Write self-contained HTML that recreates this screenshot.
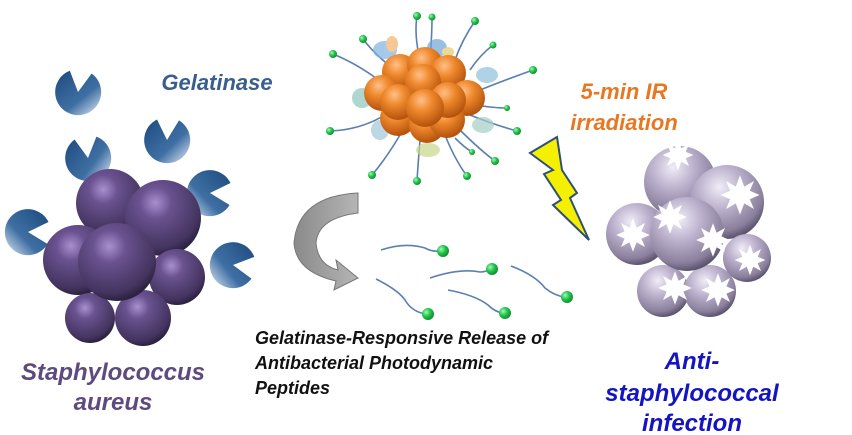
<!DOCTYPE html>
<html><head><meta charset="utf-8"><style>
html,body{margin:0;padding:0;background:#fff;width:852px;height:435px;overflow:hidden}
svg{display:block}
text{font-family:"Liberation Sans",Arial,sans-serif;font-weight:700;font-style:italic}
</style></head><body>
<svg width="852" height="435" viewBox="0 0 852 435" xmlns="http://www.w3.org/2000/svg">
<defs>
<radialGradient id="pur" cx="0.4" cy="0.3" r="0.7"><stop offset="0" stop-color="#a98fce"/><stop offset="0.3" stop-color="#6a5290"/><stop offset="0.85" stop-color="#44345f"/><stop offset="1" stop-color="#2d2242"/></radialGradient>
<radialGradient id="lav" cx="0.4" cy="0.3" r="0.7"><stop offset="0" stop-color="#f0ecf6"/><stop offset="0.4" stop-color="#beb4cf"/><stop offset="0.85" stop-color="#8a7f9c"/><stop offset="1" stop-color="#5e5670"/></radialGradient>
<radialGradient id="org" cx="0.4" cy="0.3" r="0.7"><stop offset="0" stop-color="#ffc089"/><stop offset="0.4" stop-color="#f08a2e"/><stop offset="1" stop-color="#b4520c"/></radialGradient>
<radialGradient id="grn" cx="0.35" cy="0.35" r="0.7"><stop offset="0" stop-color="#a8f5b8"/><stop offset="0.5" stop-color="#1fc64a"/><stop offset="1" stop-color="#0f8a2c"/></radialGradient>
<linearGradient id="pac" x1="0" y1="0" x2="1" y2="1"><stop offset="0" stop-color="#1e4a7e"/><stop offset="0.6" stop-color="#3e6fa3"/><stop offset="1" stop-color="#e6eef7"/></linearGradient>
<linearGradient id="arr" x1="0" y1="0" x2="1" y2="0"><stop offset="0" stop-color="#8a8a8a"/><stop offset="1" stop-color="#b5b5b5"/></linearGradient>
<g id="pm"><path d="M0,0 L-10,-20.5 A23,23 0 1 0 12,-19.6 Z" fill="url(#pac)"/></g>
<polygon id="star" points="0,-14 3,-6 10,-10 7,-3 14,0 7,3 10,10 3,6 0,14 -3,6 -10,10 -7,3 -14,0 -7,-3 -10,-10 -3,-6" fill="#fff"/>
</defs>

<use href="#pm" transform="translate(78,92) rotate(5)"/>
<use href="#pm" transform="translate(88,158) rotate(-10)"/>
<use href="#pm" transform="translate(167,140) rotate(0)"/>
<use href="#pm" transform="translate(210,193) rotate(90)"/>
<use href="#pm" transform="translate(28,232) rotate(90)"/>
<use href="#pm" transform="translate(233,265) rotate(95)"/>

<circle cx="110" cy="203" r="34" fill="url(#pur)"/>
<circle cx="163" cy="218" r="38" fill="url(#pur)"/>
<circle cx="177" cy="277" r="28" fill="url(#pur)"/>
<circle cx="78" cy="260" r="35" fill="url(#pur)"/>
<circle cx="90" cy="318" r="25" fill="url(#pur)"/>
<circle cx="143" cy="318" r="28" fill="url(#pur)"/>
<circle cx="117" cy="262" r="39" fill="url(#pur)"/>

<text x="217" y="90" font-size="22" font-weight="bold" fill="#3a5f8e" text-anchor="middle">Gelatinase</text>
<text x="113" y="380" font-size="24" font-weight="bold" fill="#5d4a7e" text-anchor="middle">Staphylococcus</text>
<text x="113" y="410" font-size="24" font-weight="bold" fill="#5d4a7e" text-anchor="middle">aureus</text>

<g fill="none" stroke="#5a7fb0" stroke-width="1.6">
<path d="M420,60 Q414,35 417,16"/><path d="M430,60 Q432,35 432,17"/><path d="M455,60 Q462,40 475,21"/>
<path d="M395,70 Q375,55 363,39"/><path d="M470,70 Q480,55 493,45"/><path d="M385,85 Q360,65 333,54"/>
<path d="M480,90 Q505,80 533,70"/><path d="M385,115 Q360,130 330,131"/><path d="M470,115 Q495,125 517,131"/>
<path d="M460,130 Q480,150 495,161"/><path d="M400,135 Q385,160 372,175"/><path d="M420,140 Q418,165 417,181"/>
<path d="M445,135 Q455,160 467,176"/><path d="M475,105 Q495,108 507,108"/><path d="M455,138 Q465,148 472,152"/>
</g>
<g fill="url(#grn)">
<circle cx="417" cy="16" r="4"/><circle cx="432" cy="17" r="3.5"/><circle cx="475" cy="21" r="4"/>
<circle cx="363" cy="39" r="4"/><circle cx="493" cy="45" r="3.5"/><circle cx="333" cy="54" r="4"/>
<circle cx="533" cy="70" r="4"/><circle cx="330" cy="131" r="4"/><circle cx="517" cy="131" r="4"/>
<circle cx="495" cy="161" r="4"/><circle cx="372" cy="175" r="4"/><circle cx="417" cy="181" r="4"/>
<circle cx="467" cy="176" r="4"/><circle cx="507" cy="108" r="3"/><circle cx="472" cy="152" r="3"/>
</g>
<g opacity="0.7">
<ellipse cx="385" cy="50" rx="12" ry="9" fill="#7fb3e0"/><ellipse cx="392" cy="44" rx="6" ry="8" fill="#f2b36b"/>
<ellipse cx="437" cy="48" rx="10" ry="9" fill="#6ea6d8"/><ellipse cx="448" cy="52" rx="6" ry="5" fill="#e9c86a"/>
<ellipse cx="487" cy="75" rx="11" ry="8" fill="#8fc0dc"/><ellipse cx="362" cy="98" rx="10" ry="10" fill="#8cc7c0"/>
<ellipse cx="483" cy="125" rx="11" ry="8" fill="#a4d0c6"/><ellipse cx="380" cy="130" rx="9" ry="10" fill="#a0c8d8"/>
<ellipse cx="428" cy="150" rx="12" ry="7" fill="#c8d88a"/>
</g>
<g fill="url(#org)">
<circle cx="400" cy="72" r="18"/><circle cx="425" cy="65" r="18"/><circle cx="448" cy="73" r="18"/>
<circle cx="382" cy="93" r="18"/><circle cx="467" cy="98" r="18"/>
<circle cx="398" cy="118" r="18"/><circle cx="427" cy="125" r="18"/><circle cx="447" cy="120" r="18"/>
<circle cx="423" cy="82" r="18"/><circle cx="398" cy="102" r="18"/><circle cx="448" cy="100" r="18"/>
<circle cx="425" cy="108" r="19"/>
</g>

<text x="624" y="99" font-size="22" font-weight="bold" fill="#e87722" text-anchor="middle">5-min IR</text>
<text x="624" y="130" font-size="22" font-weight="bold" fill="#e87722" text-anchor="middle">irradiation</text>

<polygon points="530,153 557,137 562,170 577,193 570,198 589,240 553,205 561,200 544,174 553,170" fill="#f5f000" stroke="#2e4f7a" stroke-width="2"/>

<path d="M358,193 L358,213 Q318,218 316,243 Q318,265 338,270 L336,260 L358,278 L334,290 L336,281 Q296,272 294,243 Q298,196 358,193 Z" fill="url(#arr)" stroke="#777" stroke-width="1"/>

<g fill="none" stroke="#5a7fb0" stroke-width="1.6">
<path d="M381,250 Q405,242 425,248 Q432,252 440,251"/>
<path d="M430,278 Q460,268 480,272 Q486,272 490,269"/>
<path d="M511,266 Q535,275 545,288 Q555,296 565,297"/>
<path d="M376,279 Q398,290 405,300 Q412,312 426,314"/>
<path d="M448,290 Q475,295 488,305 Q495,312 503,313"/>
</g>
<g fill="url(#grn)">
<circle cx="443" cy="251" r="6"/><circle cx="492" cy="269" r="6"/><circle cx="567" cy="297" r="6"/>
<circle cx="428" cy="314" r="6"/><circle cx="505" cy="313" r="6"/>
</g>

<g fill="url(#lav)">
<circle cx="680" cy="182" r="36"/><circle cx="727" cy="202" r="37"/>
<circle cx="637" cy="234" r="31"/><circle cx="747" cy="258" r="24"/>
<circle cx="663" cy="291" r="26"/><circle cx="710" cy="291" r="26"/>
<circle cx="687" cy="234" r="37"/>
</g>
<use href="#star" transform="translate(678,155) scale(1.1)"/>
<use href="#star" transform="translate(740,195) scale(1.4)"/>
<use href="#star" transform="translate(633,235) scale(1.2)"/>
<use href="#star" transform="translate(670,217) scale(1.2)"/>
<use href="#star" transform="translate(713,240) scale(1.2)"/>
<use href="#star" transform="translate(750,260) scale(1.1)"/>
<use href="#star" transform="translate(675,288) scale(1.2)"/>
<use href="#star" transform="translate(718,290) scale(1.2)"/>

<text x="692" y="369" font-size="24" font-weight="bold" fill="#1414c0" text-anchor="middle">Anti-</text>
<text x="692" y="401" font-size="24" font-weight="bold" fill="#1414c0" text-anchor="middle">staphylococcal</text>
<text x="692" y="431" font-size="24" font-weight="bold" fill="#1414c0" text-anchor="middle">infection</text>

<text x="255" y="344" font-size="18" font-weight="bold" fill="#111">Gelatinase-Responsive Release of</text>
<text x="255" y="369" font-size="18" font-weight="bold" fill="#111">Antibacterial Photodynamic</text>
<text x="255" y="394" font-size="18" font-weight="bold" fill="#111">Peptides</text>
</svg>
</body></html>
